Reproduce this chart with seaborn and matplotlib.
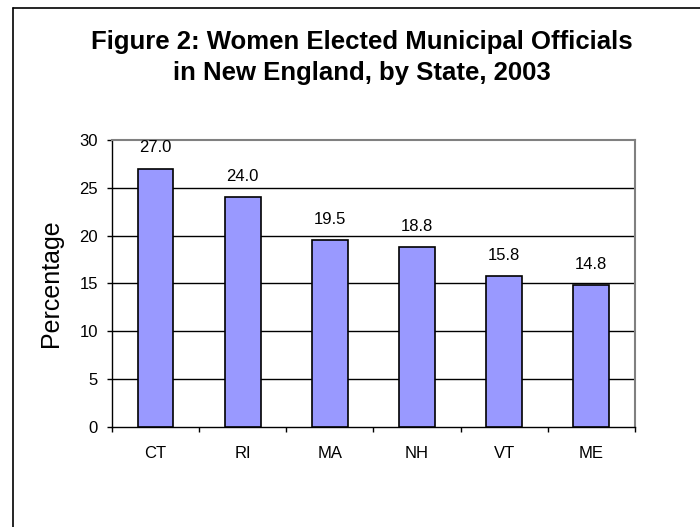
import matplotlib
matplotlib.use("Agg")
import matplotlib.pyplot as plt
import seaborn as sns
import pandas as pd
from matplotlib.lines import Line2D

states = ["CT", "RI", "MA", "NH", "VT", "ME"]
values = [27.0, 24.0, 19.5, 18.8, 15.8, 14.8]
yticks = [0, 5, 10, 15, 20, 25, 30]

sns.set_theme(style="white")
plt.rcParams['font.family'] = ['Liberation Sans', 'DejaVu Sans']
plt.rcParams['text.color'] = 'black'
plt.rcParams['xtick.color'] = 'black'
plt.rcParams['ytick.color'] = 'black'
plt.rcParams['axes.labelcolor'] = 'black'

df = pd.DataFrame({"state": states, "value": values})

fig = plt.figure(figsize=(7, 5.27), dpi=100)
ax = fig.add_axes([0.16, 0.1898, 0.747, 0.5445])

sns.barplot(data=df, x="state", y="value", ax=ax, color="#9999FF",
            saturation=1, edgecolor="black", linewidth=1.2, width=0.41, zorder=3)

ax.set_ylim(0, 30)
ax.set_xlim(-0.5, len(states) - 0.5)
ax.set_yticks(yticks)
ax.set_yticklabels([str(t) for t in yticks], fontsize=12)
ax.tick_params(axis="x", labelsize=12, length=0, pad=13.5)
ax.tick_params(axis="y", length=3.5, width=1, direction="out", left=True, pad=6.5)
for t in yticks[1:-1]:
    ax.axhline(t, color="black", lw=1, zorder=1)

# x ticks between categories
ax.set_xticks([i + 0.5 for i in range(-1, len(states))], minor=True)
ax.tick_params(axis="x", which="minor", length=3.5, width=1, bottom=True, direction="out")

for side in ["left", "bottom"]:
    ax.spines[side].set_color("black")
    ax.spines[side].set_linewidth(1)
for side in ["top", "right"]:
    ax.spines[side].set_color("#808080")
    ax.spines[side].set_linewidth(1.5)
    ax.spines[side].set_visible(True)

for i, v in enumerate(values):
    ax.annotate(f"{v:.1f}", (i, v), xytext=(0, 15), textcoords="offset points",
                ha="center", va="center", fontsize=12)

ax.set_xlabel("")
ax.set_ylabel("Percentage", fontsize=18)
ax.yaxis.set_label_coords((63 - 112) / 523, 0.5)

fig.text(0.517, 0.891, "Figure 2: Women Elected Municipal Officials\nin New England, by State, 2003",
         ha="center", va="center", fontsize=18.5, fontweight="bold", linespacing=1.38)

# figure border (top and left visible)
fig.add_artist(Line2D([13/700, 1.0], [1 - 7.5/527, 1 - 7.5/527], transform=fig.transFigure, color="black", lw=1.2))
fig.add_artist(Line2D([13/700, 13/700], [0, 1 - 7.5/527], transform=fig.transFigure, color="black", lw=1.2))

fig.savefig("out.png", dpi=100)
